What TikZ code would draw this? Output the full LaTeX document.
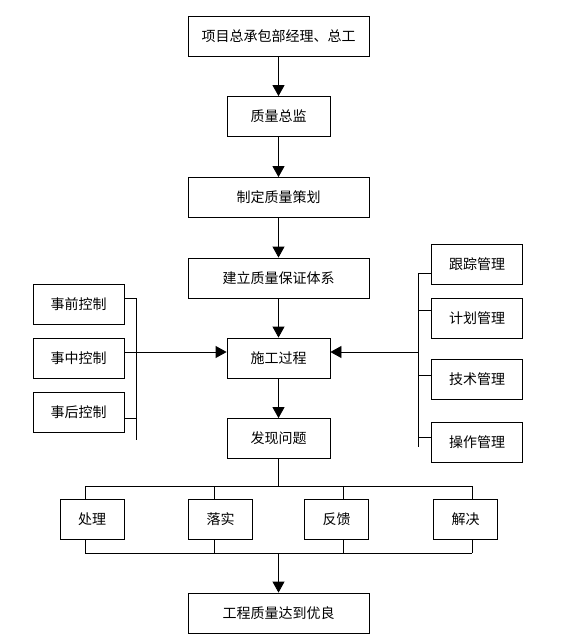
\documentclass[tikz,border=0pt]{standalone}
\usepackage{fontspec}
\usepackage{xcolor}
\usetikzlibrary{arrows.meta}
\newfontfamily\cjkfont{Noto Sans CJK SC}
\tikzset{
  box/.style={rectangle, draw=black, line width=0.8pt, minimum height=40pt, inner sep=0pt, font=\cjkfont\fontsize{14}{16}\selectfont},
  wideBox/.style={box, minimum width=181pt},
  narrowBox/.style={box, minimum width=103pt},
  sideBox/.style={box, minimum width=91pt},
  smallBox/.style={box, minimum width=64pt},
  link/.style={line width=0.8pt},
  flow/.style={link, -{Triangle[width=12pt,length=11pt]}}
}

\begin{document}
\begin{tikzpicture}[x=1pt, y=-1pt]
                    \useasboundingbox (0,0) rectangle (562,644);
                    % main column
                    \node[wideBox] (mgr) at (278.5, 36) {项目总承包部经理、总工};
                    \node[narrowBox] (chief) at (278.5, 116.5) {质量总监};
                    \node[wideBox] (plan) at (278.5, 197.5) {制定质量策划};
                    \node[wideBox] (system) at (278.5, 278) {建立质量保证体系};
                    \node[narrowBox] (process) at (278.5, 358) {施工过程};
                    \node[narrowBox] (issue) at (278.5, 438.5) {发现问题};
                    \node[wideBox] (final) at (278.5, 613) {工程质量达到优良};

                    % left controls
                    \node[sideBox] (pre) at (78.6, 304) {事前控制};
                    \node[sideBox] (mid) at (78.6, 358) {事中控制};
                    \node[sideBox] (post) at (78.6, 412) {事后控制};

                    % right management
                    \node[sideBox] (track) at (477, 264) {跟踪管理};
                    \node[sideBox] (schedule) at (477, 318.5) {计划管理};
                    \node[sideBox] (tech) at (477, 379.5) {技术管理};
                    \node[sideBox] (oper) at (477, 442) {操作管理};

                    % bottom row
                    \node[smallBox] (handle) at (92, 519.5) {处理};
                    \node[smallBox] (implement) at (220.5, 519.5) {落实};
                    \node[smallBox] (feedback) at (336.6, 519.5) {反馈};
                    \node[smallBox] (solve) at (465.6, 519.5) {解决};

                    \draw[flow] (mgr) -- (chief);
                    \draw[flow] (chief) -- (plan);
                    \draw[flow] (plan) -- (system);
                    \draw[flow] (system) -- (process);
                    \draw[flow] (process) -- (issue);

                    % left bus
                    \coordinate (lTop) at (136, 298);
                    \coordinate (lMid) at (136, 352);
                    \coordinate (lLow) at (136, 418);
                    \coordinate (lEnd) at (136, 440);
                    \draw[link] (lTop) -- (lEnd);
                    \draw[link] (pre.east |- lTop) -- (lTop);
                    \draw[link] (mid.east |- lMid) -- (lMid);
                    \draw[link] (post.east |- lLow) -- (lLow);
                    \draw[flow] (lMid) -- (process.west |- lMid);

                    % right bus
                    \coordinate (rTop) at (418.3, 273.5);
                    \coordinate (rPlan) at (418.3, 310);
                    \coordinate (rMid) at (418.3, 352);
                    \coordinate (rTech) at (418.3, 375);
                    \coordinate (rOper) at (418.3, 437);
                    \coordinate (rEnd) at (418.3, 447);
                    \draw[link] (rTop) -- (rEnd);
                    \draw[link] (track.west |- rTop) -- (rTop);
                    \draw[link] (schedule.west |- rPlan) -- (rPlan);
                    \draw[link] (tech.west |- rTech) -- (rTech);
                    \draw[link] (oper.west |- rOper) -- (rOper);
                    \draw[flow] (rMid) -- (process.east |- rMid);

                    % split and join
                    \coordinate (upHub) at (278.5, 486);
                    \coordinate (lowHub) at (278.5, 553);
                    \coordinate (u1) at (85, 486);
                    \coordinate (u2) at (214.3, 486);
                    \coordinate (u3) at (343, 486);
                    \coordinate (u4) at (471.9, 486);
                    \coordinate (b1) at (85, 553);
                    \coordinate (b2) at (214.3, 553);
                    \coordinate (b3) at (343, 553);
                    \coordinate (b4) at (471.9, 553);
                    \draw[link] (issue) -- (upHub);
                    \draw[link] (u1) -- (u4);
                    \draw[link] (b1) -- (b4);
                    \draw[link] (u1) -- (u1 |- handle.north);
                    \draw[link] (u2) -- (u2 |- implement.north);
                    \draw[link] (u3) -- (u3 |- feedback.north);
                    \draw[link] (u4) -- (u4 |- solve.north);
                    \draw[link] (b1 |- handle.south) -- (b1);
                    \draw[link] (b2 |- implement.south) -- (b2);
                    \draw[link] (b3 |- feedback.south) -- (b3);
                    \draw[link] (b4 |- solve.south) -- (b4);
                    \draw[flow] (lowHub) -- (final);
                \end{tikzpicture}
\end{document}
